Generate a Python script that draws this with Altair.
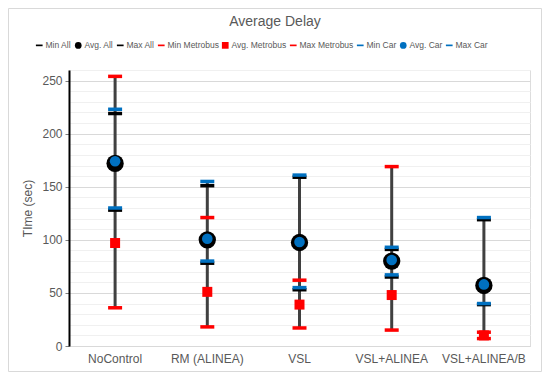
import altair as alt
import pandas as pd

categories = ["NoControl", "RM (ALINEA)", "VSL", "VSL+ALINEA", "VSL+ALINEA/B"]
min_all = [128, 78, 53, 65, 39]
avg_all = [172, 100, 97.5, 80, 57]
max_all = [219, 151, 159, 91, 119]
min_metro = [36, 18, 17, 15, 7]
avg_metro = [97, 51, 39, 48, 10]
max_metro = [254, 121, 62, 169, 13]
min_car = [130, 80, 55, 67, 40]
avg_car = [174, 101, 98, 81, 58]
max_car = [223, 155, 161, 93, 121]

series_names = ["Min All", "Avg. All", "Max All",
                "Min Metrobus", "Avg. Metrobus", "Max Metrobus",
                "Min Car", "Avg. Car", "Max Car"]
series_values = [min_all, avg_all, max_all, min_metro, avg_metro, max_metro,
                 min_car, avg_car, max_car]
series_kind = ["dash", "avg_all", "dash", "dash", "avg_metro", "dash",
               "dash", "avg_car", "dash"]

BLACK = "#000000"
RED = "#FF0000"
BLUE = "#0070C0"
DASH = "M-1,-0.25L1,-0.25L1,0.25L-1,0.25Z"
series_colors = [BLACK, BLACK, BLACK, RED, RED, RED, BLUE, BLUE, BLUE]
series_shapes = [DASH, "circle", DASH, DASH, "square", DASH, DASH, "circle", DASH]

rows = []
for s, vals, k in zip(series_names, series_values, series_kind):
    for c, v in zip(categories, vals):
        rows.append({"category": c, "series": s, "value": v, "kind": k})
df = pd.DataFrame(rows)

FONT = "Liberation Sans"
GRAY = "#595959"
YTITLE = "TIme (sec)"

x_enc = alt.X("category:N", sort=categories, title=None,
              scale=alt.Scale(paddingInner=0, paddingOuter=0),
              axis=alt.Axis(labelAngle=0, ticks=False, domainColor="#d9d9d9",
                            domainWidth=1, labelFontSize=12, labelColor=GRAY,
                            labelFont=FONT, labelPadding=7, grid=False))
y_scale = alt.Scale(domain=[0, 260], nice=False, zero=True)
y_axis = alt.Axis(values=list(range(0, 261, 10)),
                  labelExpr="datum.value % 50 === 0 ? datum.label : ''",
                  gridColor={"expr": "datum.value % 50 === 0 ? '#d9d9d9' : '#f0f0f0'"},
                  tickOpacity={"expr": "datum.value % 50 === 0 ? 1 : 0"},
                  tickColor="#7f7f7f", tickSize=4,
                  domainColor="#000000", domainWidth=2,
                  labelFontSize=12, labelColor=GRAY, labelFont=FONT, labelPadding=3,
                  titleFontSize=12, titleColor=GRAY, titleFont=FONT,
                  titleFontWeight="normal", titlePadding=7)

legend = alt.Legend(orient="none", legendX=-34, legendY=-29, direction="horizontal",
                    columns=9, title=None, symbolSize=45, labelFontSize=8.5,
                    labelFont=FONT, labelColor=GRAY, labelOffset=2,
                    columnPadding=2, symbolStrokeWidth=0)
color_enc = alt.Color("series:N", scale=alt.Scale(domain=series_names, range=series_colors),
                      legend=legend, title=None)
shape_enc = alt.Shape("series:N", scale=alt.Scale(domain=series_names, range=series_shapes),
                      legend=legend, title=None)

base = alt.Chart(df)

rules = base.mark_rule(color="#404040", strokeWidth=3).encode(
    x=x_enc,
    y=alt.Y("min(value):Q", scale=y_scale, axis=y_axis, title=YTITLE),
    y2="max(value):Q",
)

def pts(kind, size):
    return base.transform_filter(alt.datum.kind == kind).mark_point(
        filled=True, size=size, opacity=1, strokeWidth=0
    ).encode(
        x=x_enc,
        y=alt.Y("value:Q", scale=y_scale, axis=y_axis, title=YTITLE),
        color=color_enc,
        shape=shape_enc,
    )

black_c = pts("avg_all", 300)
dashes = pts("dash", 196)
red_sq = pts("avg_metro", 100)
blue_c = pts("avg_car", 113)

deco = pd.DataFrame({"t": ["Average Delay"]})
title = alt.Chart(deco).mark_text(fontSize=14, color=GRAY, font=FONT,
                                  baseline="middle", align="center").encode(
    text="t:N", x=alt.value(206), y=alt.value(-48))
border = alt.Chart(deco).mark_rect(fillOpacity=0, stroke="#d9d9d9", strokeWidth=1).encode(
    x=alt.value(-60.5), x2=alt.value(472.5), y=alt.value(-61.5), y2=alt.value(301.5))

chart = alt.layer(border, rules, black_c, dashes, red_sq, blue_c, title).properties(
    width=461, height=276,
    autosize=alt.AutoSizeParams(type="none"),
    padding={"left": 61, "top": 62, "right": 12, "bottom": 26},
).configure_view(stroke=None).configure(background="white")

chart.save("out.html", embed_options={"renderer": "svg", "actions": False})
